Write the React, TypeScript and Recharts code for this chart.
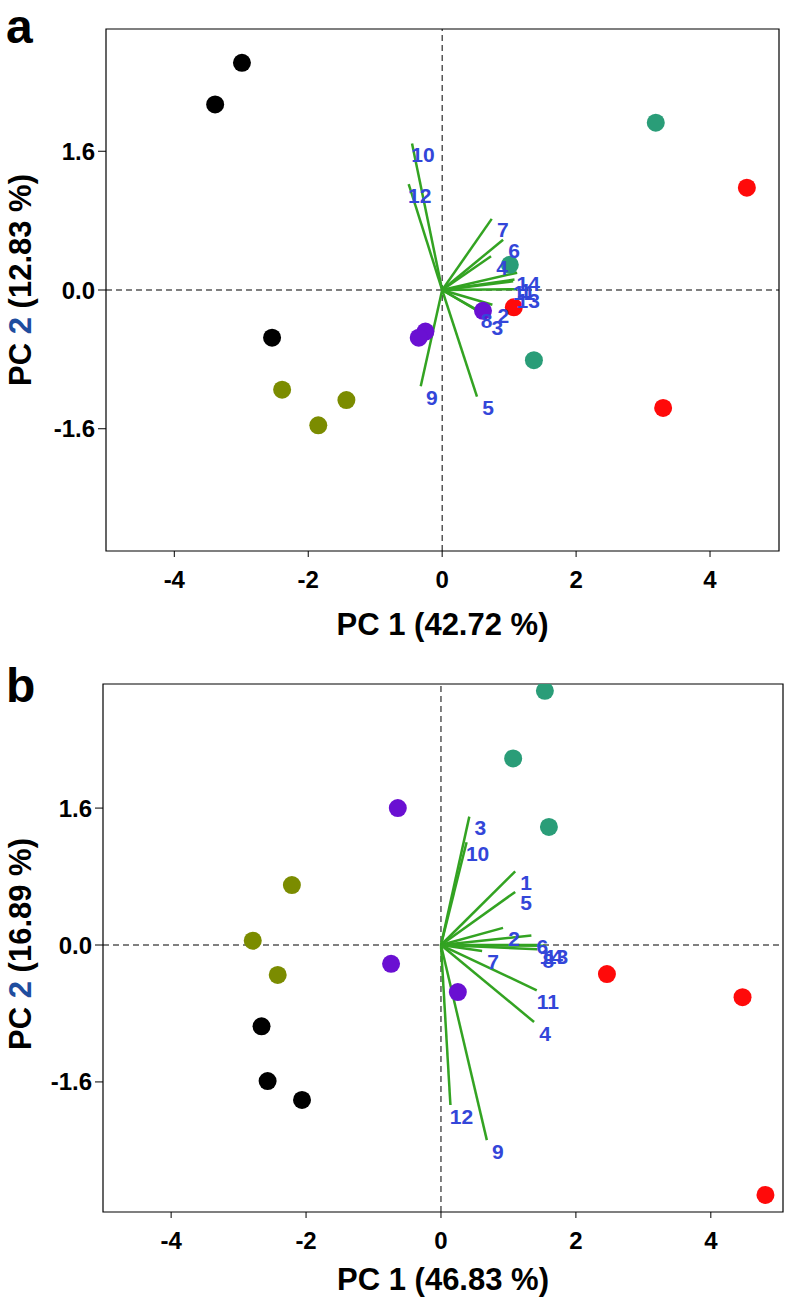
import React from 'react';
import { ScatterChart, Scatter, XAxis, YAxis, ReferenceLine, ReferenceArea } from 'recharts';

const FONT = '"Liberation Sans", Arial, Helvetica, sans-serif';

const xTicks = [-4, -2, 0, 2, 4];
const yTicks = [-1.6, 0, 1.6];

// panel a: sample scores
const aBlack = [{ x: -2.99, y: 2.62 }, { x: -3.39, y: 2.14 }, { x: -2.54, y: -0.55 }];
const aOlive = [{ x: -2.39, y: -1.15 }, { x: -1.85, y: -1.56 }, { x: -1.43, y: -1.27 }];
const aPurple = [{ x: -0.25, y: -0.48 }, { x: -0.35, y: -0.55 }, { x: 0.61, y: -0.24 }];
const aTeal = [{ x: 3.19, y: 1.93 }, { x: 1.01, y: 0.29 }, { x: 1.37, y: -0.81 }];
const aRed = [{ x: 4.55, y: 1.18 }, { x: 1.07, y: -0.2 }, { x: 3.3, y: -1.36 }];

// panel a: loadings
const aVectors = [
  { name: '10', x: -0.45, y: 1.69 },
  { name: '12', x: -0.5, y: 1.22 },
  { name: '7', x: 0.74, y: 0.82 },
  { name: '6', x: 0.91, y: 0.58 },
  { name: '4', x: 0.73, y: 0.39 },
  { name: '14', x: 1.12, y: 0.2 },
  { name: '1', x: 1.08, y: 0.12 },
  { name: '11', x: 1.06, y: 0.1 },
  { name: '13', x: 1.12, y: 0.01 },
  { name: '2', x: 0.75, y: -0.17 },
  { name: '8', x: 0.5, y: -0.22 },
  { name: '3', x: 0.66, y: -0.3 },
  { name: '5', x: 0.52, y: -1.23 },
  { name: '9', x: -0.32, y: -1.11 },
];

// panel b: sample scores
const bBlack = [{ x: -2.66, y: -0.95 }, { x: -2.57, y: -1.59 }, { x: -2.06, y: -1.81 }];
const bOlive = [{ x: -2.21, y: 0.7 }, { x: -2.79, y: 0.05 }, { x: -2.42, y: -0.35 }];
const bPurple = [{ x: -0.64, y: 1.6 }, { x: -0.74, y: -0.22 }, { x: 0.25, y: -0.55 }];
const bTeal = [{ x: 1.54, y: 2.97 }, { x: 1.07, y: 2.18 }, { x: 1.6, y: 1.38 }];
const bRed = [{ x: 2.46, y: -0.34 }, { x: 4.47, y: -0.61 }, { x: 4.81, y: -2.92 }];

// panel b: loadings
const bVectors = [
  { name: '3', x: 0.42, y: 1.5 },
  { name: '10', x: 0.38, y: 1.2 },
  { name: '1', x: 1.1, y: 0.86 },
  { name: '5', x: 1.1, y: 0.62 },
  { name: '2', x: 0.92, y: 0.2 },
  { name: '6', x: 1.34, y: 0.11 },
  { name: '14', x: 1.47, y: 0.0 },
  { name: '13', x: 1.55, y: -0.01 },
  { name: '8', x: 1.43, y: -0.05 },
  { name: '7', x: 0.61, y: -0.07 },
  { name: '11', x: 1.42, y: -0.53 },
  { name: '4', x: 1.38, y: -0.9 },
  { name: '12', x: 0.14, y: -1.87 },
  { name: '9', x: 0.68, y: -2.28 },
];

const COLORS = {
  black: '#000000',
  olive: '#7b8c00',
  purple: '#6a10d2',
  teal: '#2a9d78',
  red: '#ff0a0a',
  green: '#33a322',
  label: '#3346d9',
  pc: '#1f4d9e',
};

const dot = (fill: string) => (p: any) => <circle cx={p.cx} cy={p.cy} r={9} fill={fill} />;

const vecLabel = (p: any) => (
  <text
    x={p.cx + 11}
    y={p.cy + 11}
    textAnchor="middle"
    dominantBaseline="central"
    fontFamily={FONT}
    fontWeight="bold"
    fontSize={21}
    fill={COLORS.label}
  >
    {p.payload.name}
  </text>
);

const fmtY = (v: number) => v.toFixed(1);

function Panel(props: any) {
  const { height, margin, yWidth, xHeight, xDomain, yDomain, groups, vectors, pct1, pct2, xTitleDy, yTitleCy } = props;
  const xTitle = (lp: any) => {
    const vb = lp.viewBox;
    return (
      <text x={vb.x + vb.width / 2} y={vb.y + xTitleDy} textAnchor="middle" fontFamily={FONT} fontWeight="bold" fontSize={31} fill="#000">
        {`PC 1 (${pct1} %)`}
      </text>
    );
  };
  const yTitle = (lp: any) => {
    const vb = lp.viewBox;
    const cy = vb.y + vb.height / 2 + yTitleCy;
    return (
      <text transform={`translate(31,${cy}) rotate(-90)`} textAnchor="middle" fontFamily={FONT} fontWeight="bold" fontSize={31} fill="#000">
        <tspan>PC </tspan>
        <tspan fill={COLORS.pc}>2</tspan>
        <tspan>{` (${pct2} %)`}</tspan>
      </text>
    );
  };
  return (
    <ScatterChart width={786} height={height} margin={margin}>
      <XAxis
        type="number"
        dataKey="x"
        domain={xDomain}
        allowDataOverflow
        ticks={xTicks}
        tickSize={6}
        tickMargin={14}
        axisLine={false}
        tickLine={{ stroke: '#000' }}
        tick={{ fill: '#000', fontSize: 24, fontWeight: 'bold', fontFamily: FONT }}
        height={xHeight}
        label={{ content: xTitle }}
      />
      <YAxis
        type="number"
        dataKey="y"
        domain={yDomain}
        allowDataOverflow
        ticks={yTicks}
        tickFormatter={fmtY}
        tickSize={8}
        tickMargin={3}
        axisLine={false}
        tickLine={{ stroke: '#000' }}
        tick={{ fill: '#000', fontSize: 24, fontWeight: 'bold', fontFamily: FONT }}
        width={yWidth}
        label={{ content: yTitle }}
      />
      <ReferenceArea x1={xDomain[0]} x2={xDomain[1]} y1={yDomain[0]} y2={yDomain[1]} fill="none" stroke="#000" strokeWidth={1.2} fillOpacity={0} />
      <ReferenceLine x={0} stroke="#000" strokeDasharray="6 4" strokeWidth={1} />
      <ReferenceLine y={0} stroke="#000" strokeDasharray="6 4" strokeWidth={1} />
      {groups.map((g: any, i: number) => (
        <Scatter key={i} data={g.data} shape={dot(g.color)} isAnimationActive={false} />
      ))}
      {vectors.map((v: any) => (
        <ReferenceLine
          key={'v' + v.name}
          segment={[{ x: 0, y: 0 }, { x: v.x, y: v.y }]}
          stroke={COLORS.green}
          strokeWidth={2.5}
        />
      ))}
      <Scatter data={vectors} shape={vecLabel} isAnimationActive={false} />
    </ScatterChart>
  );
}

export default function App() {
  return (
    <div style={{ position: 'absolute', left: 0, top: 0, width: 786, height: 1304, background: '#fff' }}>
      <Panel
        height={646}
        margin={{ top: 29, right: 7, bottom: 0, left: 0 }}
        yWidth={106}
        xHeight={95}
        xDomain={[-5.02, 5.03]}
        yDomain={[-3.01, 3.01]}
        groups={[
          { data: aBlack, color: COLORS.black },
          { data: aOlive, color: COLORS.olive },
          { data: aPurple, color: COLORS.purple },
          { data: aTeal, color: COLORS.teal },
          { data: aRed, color: COLORS.red },
        ]}
        vectors={aVectors}
        pct1="42.72"
        pct2="12.83"
        xTitleDy={84}
        yTitleCy={-10}
      />
      <Panel
        height={658}
        margin={{ top: 38, right: 3, bottom: 0, left: 0 }}
        yWidth={103}
        xHeight={92}
        xDomain={[-5.01, 5.07]}
        yDomain={[-3.12, 3.05]}
        groups={[
          { data: bBlack, color: COLORS.black },
          { data: bOlive, color: COLORS.olive },
          { data: bPurple, color: COLORS.purple },
          { data: bTeal, color: COLORS.teal },
          { data: bRed, color: COLORS.red },
        ]}
        vectors={bVectors}
        pct1="46.83"
        pct2="16.89"
        xTitleDy={78}
        yTitleCy={-4}
      />
      <svg width={786} height={1304} style={{ position: 'absolute', left: 0, top: 0, pointerEvents: 'none' }}>
        <text x={6} y={43} fontFamily={FONT} fontWeight="bold" fontSize={48} fill="#000">a</text>
        <text x={6} y={702} fontFamily={FONT} fontWeight="bold" fontSize={48} fill="#000">b</text>
      </svg>
    </div>
  );
}
